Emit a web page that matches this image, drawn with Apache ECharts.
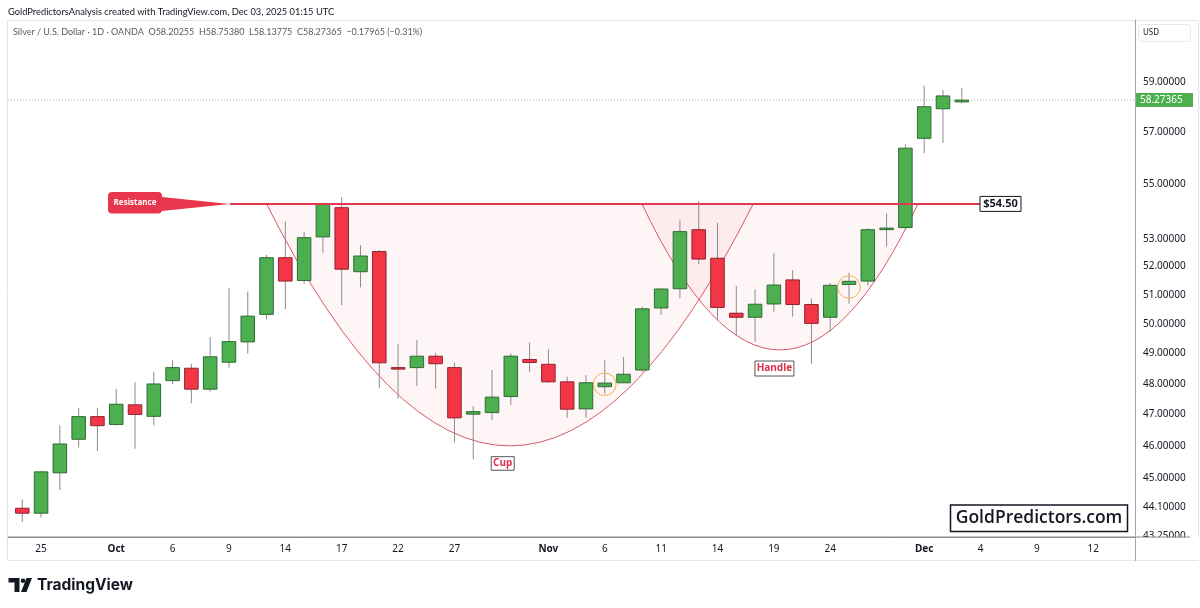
<!DOCTYPE html>
<html><head><meta charset="utf-8">
<script src="https://cdn.jsdelivr.net/npm/echarts@6/dist/echarts.min.js"></script>
<style>html,body{margin:0;padding:0;background:#fff}#c{width:1200px;height:608px}</style>
</head><body><div id="c"></div>
<script>
// ---------- data ----------
const opens  = [44.08,43.93,45.16,46.21,46.93,46.68,47.31,46.94,48.10,48.51,47.82,48.71,49.39,50.33,52.32,51.51,53.07,54.14,51.82,52.54,48.53,48.53,48.91,48.53,47.01,47.06,47.58,48.80,48.64,48.06,47.18,47.90,48.03,48.45,50.55,51.22,53.33,52.30,50.37,50.23,50.69,51.53,50.67,50.23,51.37,51.49,53.34,53.41,56.77,57.93,58.20255];
const highs  = [44.35,45.22,46.65,47.20,47.20,47.83,48.05,48.39,48.78,48.65,49.56,51.24,51.12,52.42,53.64,53.26,54.33,54.54,52.77,52.60,49.32,49.45,49.02,48.69,47.27,48.45,49.00,49.37,49.14,48.23,48.28,48.78,48.89,50.60,51.25,53.67,54.38,53.58,51.32,51.20,52.48,51.88,50.88,51.41,51.79,53.39,53.93,56.54,58.85,58.68,58.75380];
const lows   = [43.67,43.80,44.63,45.95,45.84,46.64,45.91,46.65,47.99,47.36,47.74,48.53,49.00,50.16,50.51,51.40,52.50,50.65,51.27,47.86,47.51,47.92,47.84,46.11,45.58,46.82,47.31,48.39,48.03,46.89,46.89,47.66,48.03,48.39,50.31,50.89,52.09,50.13,49.62,49.40,50.42,50.25,48.66,49.73,50.70,51.33,52.72,53.33,56.20,56.59,58.13775];
const closes = [43.93,45.19,46.06,46.93,46.64,47.33,47.00,47.99,48.53,47.82,48.89,49.40,50.27,52.32,51.49,53.04,54.27,51.91,52.38,48.69,48.49,48.91,48.66,46.89,47.09,47.56,48.91,48.70,48.06,47.17,48.03,48.02,48.31,50.52,51.21,53.26,52.27,50.57,50.23,50.68,51.35,50.67,50.02,51.34,51.48,53.33,53.39,56.39,58.01,58.44,58.27365];
const priceTicks = [59, 57, 55, 53, 52, 51, 50, 49, 48, 47, 46, 45, 44.1, 43.25];
const timeTickDates  = ['2025-09-25','2025-10-01','2025-10-06','2025-10-09','2025-10-14','2025-10-17','2025-10-22','2025-10-27','2025-11-03','2025-11-06','2025-11-11','2025-11-14','2025-11-19','2025-11-24','2025-12-01','2025-12-04','2025-12-09','2025-12-12'];
const timeTickLabels = ['25','Oct','6','9','14','17','22','27','Nov','6','11','14','19','24','Dec','4','9','12'];
const monthLabels = ['Oct','Nov','Dec'];
const resistanceLevel = 54.28;
const resistanceText = '$54.50';
const headerText = 'GoldPredictorsAnalysis created with TradingView.com, Dec 03, 2025 01:15 UTC';
const legendText = 'Silver / U.S. Dollar · 1D · OANDA  O58.20255  H58.75380  L58.13775  C58.27365  \u22120.17965 (\u22120.31%)';

// trading-day calendar (weekdays), first candle 2025-09-24
const dates = [];
(function () {
  let t = Date.UTC(2025, 8, 24); const end = Date.UTC(2025, 11, 16);
  while (t <= end) { const wd = new Date(t).getUTCDay(); if (wd !== 0 && wd !== 6) dates.push(new Date(t).toISOString().slice(0, 10)); t += 86400000; }
})();
const tickIdx = timeTickDates.map(d => dates.indexOf(d));
const tickLabelMap = {}; tickIdx.forEach((ix, k) => tickLabelMap[ix] = timeTickLabels[k]);

// annotation anchors (index / price)
const cup    = { x0: 13.0, x1: 38.9, bottom: 46.0 };
const handle = { x0: 32.98, x1: 47.67, bottom: 49.12 };
const resistanceSpan = [11.05, 50.97];
const calloutAt = [6.0, resistanceLevel];
const cupLabelAt = [25.57, 45.45];
const handleLabelAt = [40.03, 48.50];
const circles = [[31, 47.98], [44, 51.28]];

const FF = "'Noto Sans', sans-serif";
const GREEN = '#4caf50', RED = '#f23645';

const chart = echarts.init(document.getElementById('c'));
const candleData = opens.map((o, i) => [i, o, highs[i], lows[i], closes[i]]);

chart.setOption({
  animation: false,
  backgroundColor: '#ffffff',
  grid: { left: 8, right: 65, top: 20, bottom: 71 },
  xAxis: {
    type: 'value', min: -0.76, max: 59.22,
    axisLine: { show: true, onZero: false, lineStyle: { color: '#8a8d95', width: 1 } },
    axisTick: { show: false }, splitLine: { show: false },
    axisLabel: {
      customValues: tickIdx, margin: 7, color: '#131722', fontSize: 10, fontFamily: FF,
      formatter: v => { const s = tickLabelMap[Math.round(v)] || ''; return monthLabels.indexOf(s) >= 0 ? '{m|' + s + '}' : s; },
      rich: { m: { fontWeight: 'bold', fontSize: 10, fontFamily: FF, color: '#131722' } }
    }
  },
  yAxis: {
    type: 'log', logBase: 10, position: 'right', min: 43.221, max: 61.556,
    axisLine: { show: true, onZero: false, lineStyle: { color: '#a3a6af' } },
    axisTick: { show: false }, splitLine: { show: false },
    axisLabel: { customValues: priceTicks, margin: 8, color: '#131722', fontSize: 10, fontFamily: FF, formatter: v => Number(v).toFixed(5) }
  },
  series: [{
    type: 'custom', name: 'XAGUSD', z: 5,
    data: candleData,
    encode: { x: 0, y: [1, 2, 3, 4] },
    renderItem: function (params, api) {
      const i = api.value(0), o = api.value(1), h = api.value(2), l = api.value(3), c = api.value(4);
      const pO = api.coord([i, o]), pC = api.coord([i, c]), pH = api.coord([i, h]), pL = api.coord([i, l]);
      const w = api.coord([i + 0.36, o])[0] - api.coord([i - 0.36, o])[0];
      const up = c >= o;
      const top = Math.min(pO[1], pC[1]);
      const bh = Math.max(Math.abs(pO[1] - pC[1]), 1.5);
      return { type: 'group', children: [
        { type: 'line', shape: { x1: pO[0], y1: pH[1], x2: pO[0], y2: pL[1] }, style: { stroke: '#8c8c8c', lineWidth: 1 } },
        { type: 'rect', shape: { x: pO[0] - w / 2, y: top, width: w, height: bh }, style: { fill: up ? GREEN : RED, stroke: up ? '#2f6b33' : '#8e2430', lineWidth: 1 } }
      ] };
    }
  }]
});

// ---------- annotations (positioned through the chart's own scales) ----------
function px(x, y) { return chart.convertToPixel({ gridIndex: 0 }, [x, y]); }
function curve(a, fill) {
  const p0 = px(a.x0, resistanceLevel), p1 = px(a.x1, resistanceLevel), pb = px((a.x0 + a.x1) / 2, a.bottom);
  return { type: 'bezierCurve', z: 1, silent: true,
    shape: { x1: p0[0], y1: p0[1], x2: p1[0], y2: p1[1], cpx1: (p0[0] + p1[0]) / 2, cpy1: 2 * pb[1] - p0[1] },
    style: { fill: fill, stroke: '#d65a66', lineWidth: 1 } };
}
const rs0 = px(resistanceSpan[0], resistanceLevel), rs1 = px(resistanceSpan[1], resistanceLevel);
const co = px(calloutAt[0], calloutAt[1]);
const cl = px(cupLabelAt[0], cupLabelAt[1]);
const hl = px(handleLabelAt[0], handleLabelAt[1]);
const last = closes[closes.length - 1];
const lp0 = px(-0.76, last), lp1 = px(59.22, last);

const g = [
  // frame
  { type: 'rect', z: 0, silent: true, shape: { x: 7.5, y: 20.5, width: 1191, height: 540 }, style: { fill: 'none', stroke: '#e3e5ea', lineWidth: 1 } },
  curve(cup, 'rgba(242,54,69,0.05)'),
  curve(handle, 'rgba(242,54,69,0.05)'),
  // last price dotted line
  { type: 'line', z: 3, silent: true, shape: { x1: lp0[0], y1: lp0[1], x2: lp1[0], y2: lp1[1] }, style: { stroke: '#8fc493', lineWidth: 1, lineDash: [1, 2] } },
  // resistance line
  { type: 'line', z: 20, silent: true, shape: { x1: rs0[0], y1: rs0[1], x2: rs1[0], y2: rs1[1] }, style: { stroke: '#e3394e', lineWidth: 2 } },
  { type: 'rect', z: 21, shape: { x: rs1[0], y: rs1[1] - 7.5, width: 41, height: 15 }, style: { fill: '#fff', stroke: '#131722', lineWidth: 1 } },
  { type: 'text', z: 22, style: { text: resistanceText, x: rs1[0] + 20.5, y: rs1[1], align: 'center', verticalAlign: 'middle', fill: '#131722', fontSize: 11, fontWeight: 'bold', fontFamily: FF } },
  // resistance callout
  { type: 'polygon', z: 20, shape: { points: [[co[0] + 22, co[1] - 7.5], [rs0[0], rs0[1]], [co[0] + 22, co[1] + 7.7]] }, style: { fill: '#e8364c' } },
  { type: 'rect', z: 21, shape: { x: co[0] - 27, y: co[1] - 12, width: 54, height: 21.5, r: 4 }, style: { fill: '#e8364c' } },
  { type: 'text', z: 22, style: { text: 'Resistance', x: co[0], y: co[1] - 1.3, align: 'center', verticalAlign: 'middle', fill: '#fff', fontSize: 8, fontWeight: 'bold', fontFamily: FF } },
  // Cup / Handle labels
  { type: 'rect', z: 21, shape: { x: cl[0] - 11.5, y: cl[1] - 6.8, width: 23, height: 13.6 }, style: { fill: '#fff', stroke: '#555', lineWidth: 1 } },
  { type: 'text', z: 22, style: { text: 'Cup', x: cl[0], y: cl[1], align: 'center', verticalAlign: 'middle', fill: '#e0314b', fontSize: 10, fontWeight: 'bold', fontFamily: FF } },
  { type: 'rect', z: 21, shape: { x: hl[0] - 19.5, y: hl[1] - 7.5, width: 39, height: 15 }, style: { fill: '#fff', stroke: '#555', lineWidth: 1 } },
  { type: 'text', z: 22, style: { text: 'Handle', x: hl[0], y: hl[1], align: 'center', verticalAlign: 'middle', fill: '#e0314b', fontSize: 10, fontWeight: 'bold', fontFamily: FF } },
  // watermark box
  { type: 'rect', z: 21, shape: { x: 950.5, y: 505, width: 177, height: 26.5 }, style: { fill: '#fff', stroke: '#131722', lineWidth: 1.5 } },
  { type: 'text', z: 22, style: { text: 'GoldPredictors.com', x: 1039, y: 518.5, align: 'center', verticalAlign: 'middle', fill: '#131722', fontSize: 17.5, fontWeight: 600, fontFamily: "'Open Sans', sans-serif" } },
  // price scale extras
  { type: 'rect', z: 30, silent: true, shape: { x: 1136.5, y: 537.5, width: 63, height: 22 }, style: { fill: '#fff' } },
  { type: 'line', z: 31, silent: true, shape: { x1: 8, y1: 537, x2: 1190, y2: 537 }, style: { stroke: '#8a8d95', lineWidth: 1 } },
  { type: 'line', z: 31, silent: true, shape: { x1: 1135.5, y1: 20, x2: 1135.5, y2: 561 }, style: { stroke: '#a3a6af', lineWidth: 1 } },
  { type: 'rect', z: 31, shape: { x: 1136, y: lp0[1] - 7, width: 57, height: 14 }, style: { fill: GREEN } },
  { type: 'text', z: 32, style: { text: last.toFixed(5), x: 1140, y: lp0[1], align: 'left', verticalAlign: 'middle', fill: '#fff', fontSize: 10, fontFamily: FF } },
  { type: 'rect', z: 31, shape: { x: 1138.5, y: 24.5, width: 52, height: 17, r: 3 }, style: { fill: '#fff', stroke: '#e6e8ec' } },
  { type: 'text', z: 32, style: { text: 'USD', x: 1143, y: 33, align: 'left', verticalAlign: 'middle', fill: '#131722', fontSize: 8, fontFamily: FF } },
  // header texts
  { type: 'text', z: 32, style: { text: headerText, x: 8, y: 11.5, align: 'left', verticalAlign: 'middle', fill: '#131722', fontSize: 9.3, fontFamily: "Lato, sans-serif" } },
  { type: 'text', z: 32, style: { text: legendText, x: 13, y: 32.5, align: 'left', verticalAlign: 'middle', fill: '#555a64', fontSize: 9, fontFamily: "Lato, sans-serif" } },
  // TradingView logo
  { type: 'polygon', z: 32, shape: { points: [[8.5, 578], [19.5, 578], [19.5, 592], [14.5, 592], [14.5, 582.5], [8.5, 582.5]] }, style: { fill: '#131722' } },
  { type: 'circle', z: 32, shape: { cx: 23, cy: 580.8, r: 2.3 }, style: { fill: '#131722' } },
  { type: 'polygon', z: 32, shape: { points: [[26.5, 578], [32, 578], [26.5, 592], [21, 592]] }, style: { fill: '#131722' } },
  { type: 'text', z: 32, style: { text: 'TradingView', x: 37, y: 585, align: 'left', verticalAlign: 'middle', fill: '#131722', fontSize: 15.5, fontWeight: 700, fontFamily: "Inter, sans-serif" } }
];
circles.forEach(c => { const p = px(c[0], c[1]); g.push({ type: 'circle', z: 25, silent: true, shape: { cx: p[0], cy: p[1], r: 11.3 }, style: { fill: 'none', stroke: '#f0b24a', lineWidth: 1 } }); });
chart.setOption({ graphic: g });
</script></body></html>
